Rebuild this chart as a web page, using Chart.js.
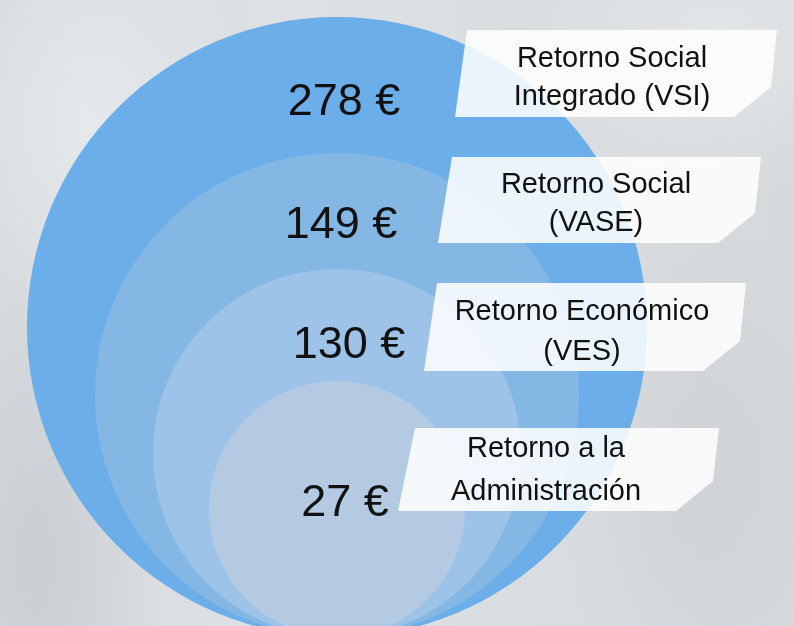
<!DOCTYPE html>
<html lang="es">
<head>
<meta charset="utf-8">
<title>Retorno social</title>
<script src="https://cdn.jsdelivr.net/npm/chart.js@4/dist/chart.umd.min.js"></script>
<style>
    html, body { margin: 0; padding: 0; }
    body { width: 794px; height: 626px; overflow: hidden; }
    .wrap {
        position: relative;
        width: 794px;
        height: 626px;
        background:
            radial-gradient(ellipse 120px 300px at 40px 560px, rgba(190,195,200,0.55), rgba(190,195,200,0) 100%),
            radial-gradient(ellipse 160px 220px at 90px 120px, rgba(232,236,239,0.8), rgba(232,236,239,0) 100%),
            radial-gradient(ellipse 200px 160px at 720px 40px, rgba(230,233,236,0.8), rgba(230,233,236,0) 100%),
            radial-gradient(ellipse 140px 260px at 700px 470px, rgba(200,204,208,0.5), rgba(200,204,208,0) 100%),
            linear-gradient(90deg, #d7dbde 0%, #dde1e4 35%, #d9dde0 70%, #d5d9dc 100%);
    }
</style>
</head>
<body>
<div class="wrap"><canvas id="rings"></canvas></div>
<script>
// ── Data ──────────────────────────────────────────────────

const categories = [
    ['Retorno Social', 'Integrado (VSI)'],
    ['Retorno Social', '(VASE)'],
    ['Retorno Económico', '(VES)'],
    ['Retorno a la', 'Administración']
];
const values = [278, 149, 130, 27];
const currency = '€';

// ── Layout (pixels) ───────────────────────────────────────

const W = 794, H = 626;
const RING_CX = 337;
const RING_BOTTOM = 637;          // all rings touch the same bottom point
const ringRadii = [310, 242, 184, 128];
const ringColors = ['#6caee9', '#85b7e5', '#9dc3e8', '#b3cae2'];

const valueAnchors = [[344, 115], [341, 238], [349, 358], [345, 516]];
const boxes = [
    { x: 455, y: 30,  w: 322, h: 87, slant: 12, textX: 612, lines: [67, 105] },
    { x: 438, y: 157, w: 323, h: 86, slant: 14, textX: 596, lines: [193, 231] },
    { x: 424, y: 283, w: 322, h: 88, slant: 13, textX: 582, lines: [320, 360] },
    { x: 398, y: 428, w: 321, h: 83, slant: 17, textX: 546, lines: [457, 500] }
];

const FONT = '"Liberation Sans", Arial, sans-serif';

// ── Overlay: value figures and label tags ─────────────────

const overlayPlugin = {
    id: 'overlay',
    afterDatasetsDraw(chart) {
        const ctx = chart.ctx;
        ctx.save();

        // amounts inside the rings
        ctx.fillStyle = '#111';
        ctx.font = `45px ${FONT}`;
        ctx.textAlign = 'center';
        ctx.textBaseline = 'alphabetic';
        values.forEach((v, i) => {
            const [x, y] = valueAnchors[i];
            ctx.fillText(`${v} ${currency}`, x, y);
        });

        // translucent tags with a cut corner
        boxes.forEach((b, i) => {
            ctx.beginPath();
            ctx.moveTo(b.x + b.slant, b.y);
            ctx.lineTo(b.x + b.w, b.y);
            ctx.lineTo(b.x + b.w - 6, b.y + b.h - 30);
            ctx.lineTo(b.x + b.w - 43, b.y + b.h);
            ctx.lineTo(b.x, b.y + b.h);
            ctx.closePath();
            ctx.fillStyle = 'rgba(255, 255, 255, 0.86)';
            ctx.fill();

            ctx.fillStyle = '#111';
            ctx.font = `29px ${FONT}`;
            categories[i].forEach((line, k) => {
                ctx.fillText(line, b.textX, b.lines[k]);
            });
        });

        ctx.restore();
    }
};

// ── Chart.js Setup ────────────────────────────────────────

const ctx = document.getElementById('rings').getContext('2d');

new Chart(ctx, {
    type: 'bubble',
    data: {
        labels: categories.map(c => c.join(' ')),
        datasets: [{
            label: 'Retorno',
            data: values.map((v, i) => ({
                x: RING_CX,
                y: RING_BOTTOM - ringRadii[i],
                r: ringRadii[i],
                v: v
            })),
            backgroundColor: ringColors,
            borderWidth: 0,
            hoverRadius: 0,
            clip: false
        }]
    },
    options: {
        responsive: true,
        maintainAspectRatio: false,
        animation: false,
        events: [],
        layout: { padding: 0, autoPadding: false },
        plugins: {
            legend: { display: false },
            tooltip: { enabled: false }
        },
        scales: {
            x: { type: 'linear', min: 0, max: W, display: false },
            y: { type: 'linear', min: 0, max: H, reverse: true, display: false }
        }
    },
    plugins: [overlayPlugin]
});
</script>
</body>
</html>
